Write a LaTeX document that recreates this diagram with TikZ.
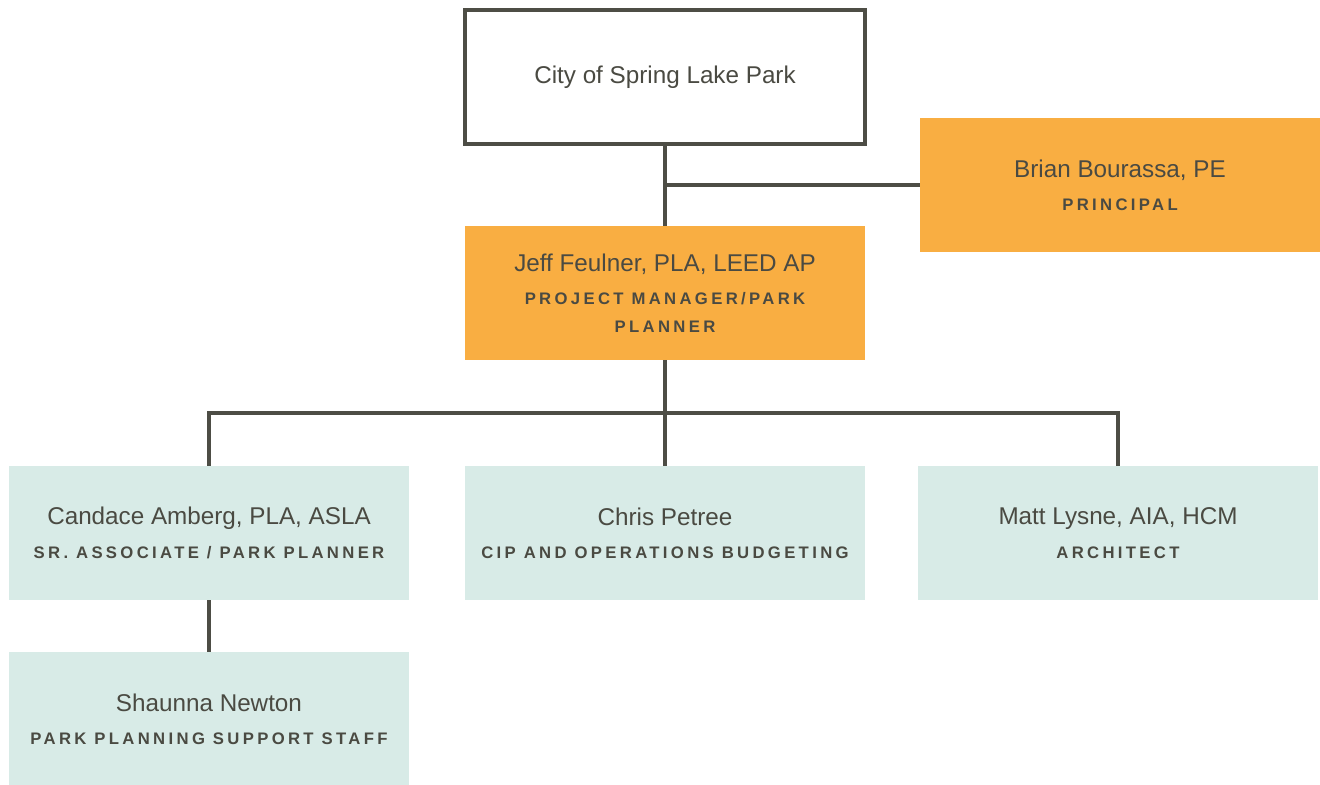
\documentclass[tikz,border=0pt]{standalone}
\usepackage{fontspec}
\setmainfont{Liberation Sans}
\newfontfamily\rolefont[LetterSpace=20]{Liberation Sans}
\definecolor{orgline}{HTML}{4D4D45}
\definecolor{orgtext}{HTML}{4A4A42}
\definecolor{leadfill}{HTML}{F9AE42}
\definecolor{stafffill}{HTML}{D8EBE7}
\newcommand{\role}[1]{{\rolefont\bfseries\fontsize{9.5}{16.5}\selectfont #1}}
\tikzset{
	orgbox/.style={minimum width=8cm, minimum height=2.68cm, inner sep=0pt, align=center, text=orgtext, font=\fontsize{13.8}{16}\selectfont},
	client/.style={orgbox, draw=orgline, line width=1.8pt, fill=white},
	lead/.style={orgbox, fill=leadfill},
	staff/.style={orgbox, fill=stafffill},
	link/.style={draw=orgline, line width=1.8pt}
}

\begin{document}
\begin{tikzpicture}[x=0.02cm, y=-0.02cm]
		%%%%% START %%%%%
		\useasboundingbox (0, 0) rectangle (1320, 785);
		
		\node[client] (city) at (665, 77) {City of Spring Lake Park};
		\node[lead] (brian) at (1120, 185) {Brian Bourassa, PE\\[3pt]\role{PRINCIPAL}};
		\node[lead] (jeff) at (665, 293) {Jeff Feulner, PLA, LEED AP\\[3pt]\role{PROJECT MANAGER/PARK}\\[-0.5pt]\role{PLANNER}};
		
		\node[staff] (candace) at (209, 533) {Candace Amberg, PLA, ASLA\\[3pt]\role{SR. ASSOCIATE / PARK PLANNER}};
		\node[staff] (chris) at (665, 533) {Chris Petree\\[3pt]\role{CIP AND OPERATIONS BUDGETING}};
		\node[staff] (matt) at (1118, 533) {Matt Lysne, AIA, HCM\\[3pt]\role{ARCHITECT}};
		\node[staff] (shaunna) at (209, 719) {Shaunna Newton\\[3pt]\role{PARK PLANNING SUPPORT STAFF}};
		
		\coordinate (bus) at (665, 413);
		
		\draw[link] (city) -- (jeff);
		\draw[link] (city.south |- brian.west) -- (brian.west);
		\draw[link] (jeff) -- (chris);
		\draw[link] (candace.north) -- (candace.north |- bus) -- (matt.north |- bus) -- (matt.north);
		\draw[link] (candace) -- (shaunna);
		
		%%%%% END %%%%%
	\end{tikzpicture}
\end{document}
